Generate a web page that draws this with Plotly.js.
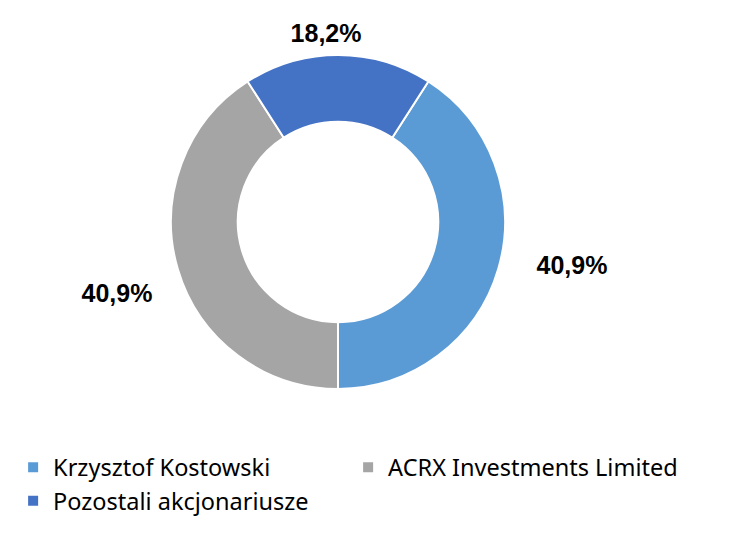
<!DOCTYPE html>
<html><head><meta charset="utf-8">
<script src="https://cdn.plot.ly/plotly-3.0.1.min.js"></script>
<style>html,body{margin:0;padding:0;background:#fff}</style>
</head><body>
<div id="chart" style="width:729px;height:548px"></div>
<script>
const labels = ["Krzysztof Kostowski", "ACRX Investments Limited", "Pozostali akcjonariusze"];
const values = [40.9, 40.9, 18.2];
const colors = ["#5B9BD5", "#A5A5A5", "#4472C4"];
const rightLabelTemplate = ["%{percent:.1%}", "", ""];
const leftLabelTemplate = ["", "%{percent:.1%}", ""];
const topLabelTemplate = ["", "", "%{percent:.1%}"];

const labelFont = {family: "Liberation Sans, Arial", size: 25, color: "#000000", weight: "bold"};
const clear = ["rgba(0,0,0,0)", "rgba(0,0,0,0)", "rgba(0,0,0,0)"];

const common = {
  type: "pie", labels: labels, values: values, sort: false,
  direction: "clockwise", rotation: 32.76
};

const mainPie = Object.assign({}, common, {
  hole: 0.6,
  marker: {colors: colors, line: {color: "#ffffff", width: 2}},
  textinfo: "none",
  domain: {x: [0.2346, 0.6927], y: [0.290, 0.900]},
  showlegend: true
});

// transparent thin rings used only to place the percentage labels
function labelRing(template, domain) {
  return Object.assign({}, common, {
    hole: 0.9868,
    marker: {colors: clear, line: {width: 0}},
    textposition: "inside", insidetextorientation: "horizontal",
    texttemplate: template, textfont: labelFont,
    domain: domain, showlegend: false, hoverinfo: "skip"
  });
}
const rightLabel = labelRing(rightLabelTemplate, {x: [0.3717, 0.7860], y: [0.2409, 0.7920]});
const leftLabel = labelRing(leftLabelTemplate, {x: [0.1591, 0.5734], y: [0.1898, 0.7409]});
const topLabel = labelRing(topLabelTemplate, {x: [0.2401, 0.6543], y: [0.3905, 0.9416]});

const layout = {
  width: 729, height: 548,
  margin: {l: 0, r: 0, t: 0, b: 0},
  paper_bgcolor: "#ffffff",
  separators: ", ",
  uniformtext: {mode: "show", minsize: 25},
  showlegend: true,
  legend: {
    orientation: "h", x: 0.018, y: 0.116, xanchor: "left", yanchor: "middle",
    entrywidth: 290, entrywidthmode: "pixels",
    font: {family: "Noto Sans, Open Sans", size: 23.5, color: "#000000"},
    itemclick: false
  }
};

Plotly.newPlot("chart", [mainPie, rightLabel, leftLabel, topLabel], layout, {displayModeBar: false, staticPlot: true});
</script>
</body></html>
